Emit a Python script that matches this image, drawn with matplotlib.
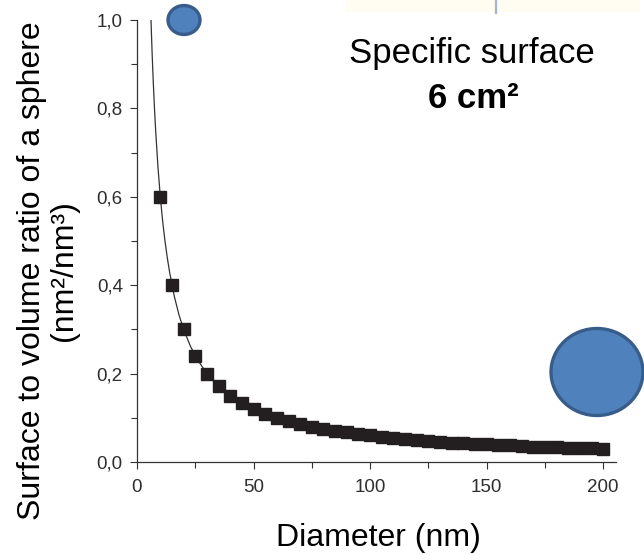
import matplotlib.pyplot as plt
from matplotlib.patches import Ellipse, Rectangle
from matplotlib.ticker import MultipleLocator, FuncFormatter

plt.rcParams['font.family'] = ['Liberation Sans', 'DejaVu Sans']

# measured points: diameter (nm) vs surface/volume ratio (nm^2/nm^3)
diameter = [10, 15, 20, 25, 30, 35, 40, 45, 50, 55, 60, 65, 70, 75, 80,
            85, 90, 95, 100, 105, 110, 115, 120, 125, 130, 135, 140, 145,
            150, 155, 160, 165, 170, 175, 180, 185, 190, 195, 200]
ratio = [0.600, 0.400, 0.300, 0.240, 0.200, 0.171, 0.150, 0.133, 0.120,
         0.109, 0.100, 0.092, 0.086, 0.080, 0.075, 0.071, 0.067, 0.063,
         0.060, 0.057, 0.055, 0.052, 0.050, 0.048, 0.046, 0.044, 0.043,
         0.041, 0.040, 0.039, 0.038, 0.036, 0.035, 0.034, 0.033, 0.032,
         0.032, 0.031, 0.030]

# fitted curve
curve_d = [6.0, 6.5, 7.0, 7.5, 8.0, 9.0, 10, 11, 12, 13, 14, 16, 18, 20, 23,
           26, 30, 35, 40, 50, 60, 70, 80, 100, 130, 160, 200]
curve_r = [1.000, 0.923, 0.857, 0.800, 0.750, 0.667, 0.600, 0.545, 0.500,
           0.462, 0.429, 0.375, 0.333, 0.300, 0.261, 0.231, 0.200, 0.171,
           0.150, 0.120, 0.100, 0.086, 0.075, 0.060, 0.046, 0.0375, 0.030]

W, H = 644, 555
fig = plt.figure(figsize=(W / 100, H / 100), dpi=100)
ax = fig.add_axes([137 / W, 1 - 462 / H, (616 - 137) / W, 442 / H])

ax.plot(curve_d, curve_r, color='#333333', lw=0.9, zorder=2)
ax.plot(diameter, ratio, 's', color='#231f20', markersize=8.8, zorder=3)

ax.set_xlim(0, 205.5)
ax.set_ylim(0, 1.0)
ax.spines['top'].set_visible(False)
ax.spines['right'].set_visible(False)
for s in ['left', 'bottom']:
    ax.spines[s].set_color('#333333')
    ax.spines[s].set_linewidth(0.9)

ax.xaxis.set_major_locator(MultipleLocator(50))
ax.xaxis.set_minor_locator(MultipleLocator(25))
ax.yaxis.set_major_locator(MultipleLocator(0.2))
ax.yaxis.set_minor_locator(MultipleLocator(0.1))
ax.yaxis.set_major_formatter(FuncFormatter(lambda v, p: f'{v:.1f}'.replace('.', ',')))
ax.tick_params(which='major', direction='out', length=5.2, width=0.8,
               color='#333333', labelsize=13.5, labelcolor='#2e2e2e')
ax.tick_params(which='minor', direction='out', length=4.2, width=0.8, color='#333333')
ax.tick_params(axis='x', pad=7)
ax.tick_params(axis='y', pad=5)

fig.text(48 / W, 1 - 271 / H, 'Surface to volume ratio of a sphere\n(nm²/nm³)',
         rotation=90, ha='center', va='center', multialignment='center',
         fontsize=23, linespacing=1.1)
fig.text(378 / W, 1 - 538 / H, 'Diameter (nm)', ha='center', va='center', fontsize=23)

fig.text(472 / W, 1 - 53 / H, 'Specific surface', ha='center', va='center', fontsize=25)
fig.text(473 / W, 1 - 99 / H, '6 cm²', ha='center', va='center', fontsize=25,
         fontweight='bold')

# faint band cut off at the top of the slide
fig.add_artist(Rectangle((345 / W, 1 - 12 / H), 295 / W, 12 / H,
                         transform=fig.transFigure, color='#fffdf2', lw=0))
fig.add_artist(plt.Line2D([496 / W, 496 / W], [1, 1 - 13 / H],
                          transform=fig.transFigure, color='#9fb4d8', lw=1.6))

# spheres
fig.add_artist(Ellipse((184 / W, 1 - 20 / H), 32 / W, 29 / H, transform=fig.transFigure,
                       facecolor='#4f81bd', edgecolor='#385d8a', lw=2.4))
fig.add_artist(Ellipse((597 / W, 1 - 372 / H), 92 / W, 87 / H, transform=fig.transFigure,
                       facecolor='#4f81bd', edgecolor='#385d8a', lw=2.4))

fig.savefig('out.png', dpi=100)
